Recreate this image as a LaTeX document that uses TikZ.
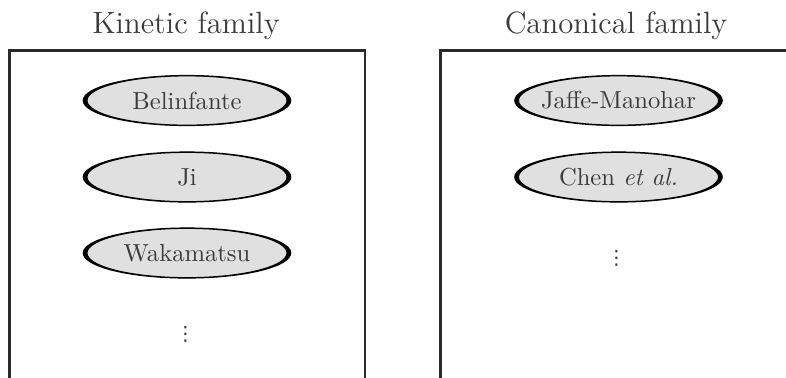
\documentclass[tikz,border=0pt]{standalone}
\usepackage{fontspec}
\newfontfamily\dotsfont{DejaVu Sans}
\usetikzlibrary{shapes.geometric,backgrounds}
\definecolor{framecol}{HTML}{2A2A2A}
\definecolor{txtcol}{HTML}{3A3A3A}
\definecolor{ellfill}{HTML}{E0E0E0}
\begin{document}
\begin{tikzpicture}[x=0.4065pt,y=-0.4065pt,
  famtitle/.style={font=\fontsize{12.5}{15}\selectfont, text=txtcol, inner sep=0pt, anchor=base},
  framebox/.style={draw=framecol, line width=1pt},
  theory/.style={ellipse, fill=ellfill, draw=black, line width=0.4pt,
    minimum width=81.3pt, minimum height=20pt, inner sep=0pt, text=txtcol},
  moredots/.style={inner sep=0pt, text=txtcol, font=\dotsfont\fontsize{8}{8}\selectfont}]
\useasboundingbox (0,0) rectangle (786,377);
\clip (0,0) rectangle (786,377);
% titles
\node[famtitle] (kt) at (186,33) {Kinetic family};
\node[famtitle] (ct) at (616,33) {Canonical family};
% frames
\draw[framebox] (9.5,390) -- (9.5,50.5) -- (365,50.5) -- (365,390);
\draw[framebox] (440.5,390) -- (440.5,50.5) -- (800,50.5);
% theories
\node[theory] (bel) at (187,100.5) {\makebox[0pt]{Belinfante}};
\node[theory] (ji)  at (187,177)   {\makebox[0pt]{Ji}};
\node[theory] (wak) at (187,253)   {\makebox[0pt]{Wakamatsu}};
\node[theory] (jm)  at (618.5,100.5) {\makebox[0pt]{Jaffe-Manohar}};
\node[theory] (ch)  at (618.5,177)   {\makebox[0pt]{Chen \textit{et al.}}};
% dots
\node[moredots] (kd) at (185.5,334) {⋮};
\node[moredots] (cd) at (616.5,258) {⋮};
% black rims behind the ellipses
\begin{scope}[on background layer]
  \foreach \n in {bel,ji,wak,jm,ch}
    \fill[black] (\n.center) ellipse [x radius=42.4pt, y radius=10.4pt];
\end{scope}
\end{tikzpicture}
\end{document}
